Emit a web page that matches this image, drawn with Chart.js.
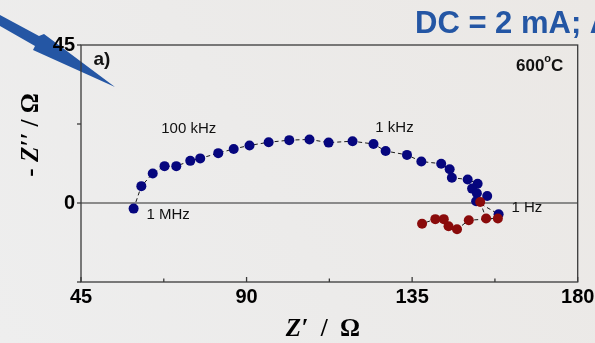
<!DOCTYPE html>
<html lang="en">
<head>
<meta charset="UTF-8">
<title>Impedance spectra 600°C</title>
<script src="https://cdn.jsdelivr.net/npm/chart.js@4"></script>
<style>
  html, body { margin: 0; padding: 0; background: #e9e7e5; }
  #wrap { width: 595px; height: 343px; }
</style>
</head>
<body>
<div id="wrap"><canvas id="nyquist" width="595" height="343"></canvas></div>
<script>
// Z' (ohm) / -Z'' (ohm)
const blueZre = [59.3, 61.4, 64.5, 67.7, 70.9, 74.7, 77.4, 82.3, 86.5, 90.8, 96.0, 101.6, 107.1, 112.3, 118.8,
                 124.5, 127.8, 133.6, 137.5, 142.9, 145.2, 145.8, 150.1, 152.8, 151.3, 152.6, 155.4, 152.4, 158.5];
const blueZim = [-1.6, 4.8, 8.4, 10.5, 10.5, 12.0, 12.7, 14.2, 15.4, 16.4, 17.3, 17.9, 18.1, 17.2, 17.6,
                 16.8, 14.8, 13.7, 11.8, 11.2, 9.6, 7.2, 6.7, 5.5, 4.1, 2.8, 2.0, 0.5, -3.2];
const redZre = [153.5, 155.1, 158.3, 150.4, 147.2, 144.9, 143.6, 141.3, 137.7];
const redZim = [0.3, -4.4, -4.4, -4.9, -7.5, -6.6, -4.6, -4.6, -5.9];

// axis ticks
const xTicks = [45, 90, 135, 180];
const yTicks = [0, 45];

// frequency labels and where they sit (data units, left/baseline)
const freqLabels = ['1 MHz', '100 kHz', '1 kHz', '1 Hz'];
const freqLabelX = [62.8, 66.8, 125.0, 162.0];
const freqLabelY = [-4.6, 19.9, 20.1, -2.65];

const BLUE = '#06067e';
const RED = '#8a0b0b';
const SANS = '"Liberation Sans", Arial, sans-serif';
const SERIF = '"Liberation Serif", "Times New Roman", serif';

const toPts = (xs, ys) => xs.map((x, i) => ({ x: x, y: ys[i] }));

// draws a run of [text, font] pieces starting at x
function drawRun(c, parts, x, y) {
  parts.forEach(p => {
    c.font = p[1];
    c.fillText(p[0], x, y);
    x += c.measureText(p[0]).width;
  });
}
function runWidth(c, parts) {
  return parts.reduce((w, p) => { c.font = p[1]; return w + c.measureText(p[0]).width; }, 0);
}

// background, arrow, frame, zero line and tick marks
const bgPlugin = {
  id: 'bg',
  beforeDraw(chart) {
    const c = chart.ctx;
    const g = c.createLinearGradient(0, 343, 595, 0);
    g.addColorStop(0, '#eeeeee');
    g.addColorStop(0.45, '#ecebea');
    g.addColorStop(1, '#ebe8e5');
    c.save();
    c.fillStyle = g;
    c.fillRect(0, 0, chart.width, chart.height);
    // arrow from the slide, behind the chart
    c.fillStyle = '#2456a4';
    c.beginPath();
    c.moveTo(0, 15); c.lineTo(39, 36); c.lineTo(44, 34);
    c.lineTo(115, 87);
    c.lineTo(33, 50); c.lineTo(35, 46); c.lineTo(0, 26);
    c.closePath();
    c.fill();
    c.restore();
  },
  beforeDatasetsDraw(chart) {
    const c = chart.ctx, a = chart.chartArea;
    const xs = chart.scales.x, ys = chart.scales.y;
    c.save();
    // zero line
    const y0 = ys.getPixelForValue(0);
    c.strokeStyle = '#6a6a6a';
    c.lineWidth = 1.5;
    c.beginPath(); c.moveTo(a.left, y0); c.lineTo(a.right, y0); c.stroke();
    // frame
    c.strokeStyle = '#3a3a3a';
    c.lineWidth = 1.3;
    c.strokeRect(a.left, a.top, a.right - a.left, a.bottom - a.top);
    // x ticks (inward)
    xs.ticks.forEach(t => {
      const px = xs.getPixelForValue(t.value);
      const len = xTicks.includes(t.value) ? 5 : 3.5;
      c.beginPath(); c.moveTo(px, a.bottom); c.lineTo(px, a.bottom - len); c.stroke();
    });
    // y ticks (outward)
    ys.ticks.forEach(t => {
      const py = ys.getPixelForValue(t.value);
      c.beginPath(); c.moveTo(a.left, py); c.lineTo(a.left - 4, py); c.stroke();
    });
    c.restore();
  },
  afterDraw(chart) {
    const c = chart.ctx;
    const xs = chart.scales.x, ys = chart.scales.y;
    c.save();
    // frequency labels
    c.fillStyle = '#111';
    c.font = '15px ' + SANS;
    c.textBaseline = 'alphabetic';
    c.textAlign = 'left';
    freqLabels.forEach((s, i) => {
      c.fillText(s, xs.getPixelForValue(freqLabelX[i]), ys.getPixelForValue(freqLabelY[i]));
    });
    // panel label
    c.font = 'bold 19px ' + SANS;
    c.fillText('a)', xs.getPixelForValue(48.4), ys.getPixelForValue(39.4));
    // temperature
    c.font = 'bold 17px ' + SANS;
    const tx = xs.getPixelForValue(176.1), ty = ys.getPixelForValue(37.6);
    const wC = c.measureText('C').width;
    c.textAlign = 'right';
    c.fillText('C', tx, ty);
    c.font = 'bold 11px ' + SANS;
    const wO = c.measureText('o').width;
    c.fillText('o', tx - wC, ty - 9);
    c.font = 'bold 17px ' + SANS;
    c.fillText('600', tx - wC - wO, ty);

    // axis titles
    c.fillStyle = '#000';
    c.textAlign = 'left';
    const up = 'bold 25px ' + SERIF, it = 'italic bold 25px ' + SERIF;
    const xTitle = [['Z\u2032', it], ['  /  ', up], ['\u03A9', up]];
    c.font = up;
    const wx = runWidth(c, xTitle);
    drawRun(c, xTitle, 323 - wx / 2, 336);

    const yTitle = [['- ', up], ['Z\u2032\u2032', it], [' / ', up], ['\u03A9', up]];
    const wy = runWidth(c, yTitle);
    c.translate(38, 135);
    c.rotate(-Math.PI / 2);
    drawRun(c, yTitle, -wy / 2, 0);
    c.setTransform(1, 0, 0, 1, 0, 0);

    // slide header
    c.fillStyle = '#2456a4';
    c.font = 'bold 31px ' + SANS;
    c.fillText('DC = 2 mA; AC', 415, 33);
    c.restore();
  }
};

const series = (label, pts, color) => ({
  label: label,
  data: pts,
  showLine: true,
  borderColor: '#1a1a1a',
  borderWidth: 1,
  borderDash: [4, 3],
  pointBackgroundColor: color,
  pointBorderColor: color,
  pointBorderWidth: 0,
  pointRadius: 5,
  pointHoverRadius: 5
});

const tickFont = { family: SANS, size: 20, weight: 'bold' };

new Chart(document.getElementById('nyquist'), {
  type: 'scatter',
  data: {
    datasets: [
      series('after DC', toPts(redZre, redZim), RED),
      series('before DC', toPts(blueZre, blueZim), BLUE)
    ]
  },
  options: {
    responsive: false,
    animation: false,
    devicePixelRatio: 1,
    layout: { padding: { top: 45, right: 17.3, left: 0, bottom: 0 } },
    plugins: { legend: { display: false }, tooltip: { enabled: false } },
    scales: {
      x: {
        type: 'linear', min: 45, max: 180,
        grid: { display: false, drawTicks: false },
        border: { display: false },
        ticks: {
          stepSize: 22.5, padding: 3, color: '#000', font: tickFont,
          autoSkip: false, maxRotation: 0,
          callback: v => xTicks.includes(v) ? String(v) : ''
        },
        afterFit: s => { s.height = 61; s.paddingLeft = 0; s.paddingRight = 0; }
      },
      y: {
        type: 'linear', min: -22.5, max: 45,
        grid: { display: false, drawTicks: false },
        border: { display: false },
        ticks: {
          stepSize: 22.5, padding: 6, color: '#000', font: tickFont,
          autoSkip: false,
          callback: v => yTicks.includes(v) ? String(v) : ''
        },
        afterFit: s => { s.width = 81; s.paddingTop = 0; s.paddingBottom = 0; }
      }
    }
  },
  plugins: [bgPlugin]
});
</script>
</body>
</html>
